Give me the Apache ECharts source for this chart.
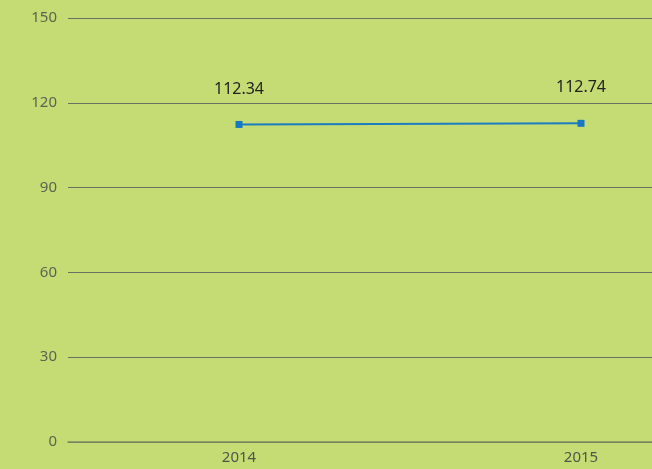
<!DOCTYPE html>
<html>
<head>
<meta charset="utf-8">
<script src="https://cdn.jsdelivr.net/npm/echarts@6/dist/echarts.min.js"></script>
<style>
  html, body { margin: 0; padding: 0; background: #c5dc74; overflow: hidden; }
  /* the plot runs past the right edge of the picture, so the canvas is wider than the window */
  #chart { width: 752px; height: 469px; }
</style>
</head>
<body>
<div id="chart"></div>
<script>
  const years = ['2014', '2015']
  const values = [112.34, 112.74]

  const chart = echarts.init(document.getElementById('chart'), null, { renderer: 'canvas' })

  chart.setOption({
    backgroundColor: '#c5dc74',
    animation: false,
    textStyle: { fontFamily: '"Noto Sans", sans-serif' },
    grid: { left: 68, right: 0, top: 18, bottom: 27, containLabel: false },
    xAxis: {
      type: 'category',
      data: years,
      boundaryGap: true,
      axisLine: { show: true, lineStyle: { color: '#7f8a62', width: 1.5 } },
      axisTick: { show: false },
      axisLabel: { color: '#50554a', fontSize: 15, margin: 8 }
    },
    yAxis: {
      type: 'value',
      min: 0,
      max: 150,
      interval: 30,
      axisLine: { show: false },
      axisTick: { show: false },
      axisLabel: { color: '#5d6350', fontSize: 15, margin: 11 },
      splitLine: { lineStyle: { color: '#6b6f62', width: 1 } }
    },
    series: [{
      type: 'line',
      data: values,
      symbol: 'rect',
      symbolSize: 7,
      lineStyle: { color: '#1b7cc0', width: 2 },
      itemStyle: { color: '#1478c4' },
      label: {
        show: true,
        position: 'top',
        distance: 24,
        color: '#222222',
        fontSize: 16,
        formatter: p => p.value.toFixed(2)
      }
    }]
  })
</script>
</body>
</html>
